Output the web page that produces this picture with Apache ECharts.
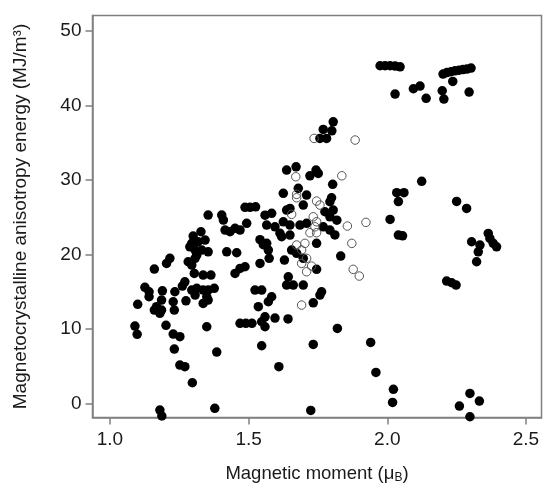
<!DOCTYPE html>
<html>
<head>
<meta charset="utf-8">
<script src="https://cdn.jsdelivr.net/npm/echarts@6/dist/echarts.min.js"></script>
<style>
  html, body { margin: 0; padding: 0; background: #fff; }
  #chart { width: 546px; height: 491px; }
</style>
</head>
<body>
<div id="chart"></div>
<script>
// Tick positions on each axis
var momentTicks = [1.0, 1.5, 2.0, 2.5];
var energyTicks = [0, 10, 20, 30, 40, 50];

// Compounds drawn as filled dots: magnetic moment (μB) and anisotropy energy (MJ/m³)
var filledMoment = [
  1.974, 1.992, 2.010, 2.028, 2.046,
  2.201, 2.215, 2.230, 2.244, 2.259, 2.273, 2.287, 2.302,
  2.236, 2.028, 2.094, 2.118, 2.140, 2.198, 2.204, 2.295,
  1.805, 1.769, 1.800, 1.757, 1.781,
  1.637, 1.671, 1.721, 1.743, 1.751, 1.803,
  1.625, 1.679, 1.709, 1.799, 1.793, 1.697, 1.649, 1.637,
  1.487, 1.505, 1.525,
  1.559, 1.583,
  1.775, 1.805, 1.793, 1.818,
  1.625, 1.649, 1.565, 1.595, 1.685, 1.709,
  1.769, 1.793,
  1.811, 1.541, 1.553, 1.619, 1.649, 1.613,
  1.745, 1.571, 1.655, 1.673, 1.697, 1.832,
  1.541, 1.574, 1.629, 1.745,
  1.643, 1.637, 1.661, 1.697,
  1.523, 1.547, 1.583, 1.571, 1.763, 1.757, 1.733, 1.535,
  1.559, 1.595, 1.642, 1.547, 1.559,
  1.469, 1.490, 1.512,
  1.090, 1.098, 1.202, 1.349, 1.228, 1.252, 1.232, 1.385, 1.547,
  1.252, 1.270, 1.609, 1.297,
  1.180, 1.187, 1.378, 1.724,
  2.010, 2.040, 2.055, 2.034, 2.060, 2.040, 2.124, 2.250, 2.286,
  2.304, 2.334, 2.328, 2.322, 2.364, 2.370, 2.382, 2.394,
  2.214, 2.232, 2.248,
  1.820, 1.733, 1.940, 1.959, 2.022, 2.019,
  2.298, 2.332, 2.260, 2.298,
  1.354, 1.403, 1.409,
  1.415, 1.433, 1.451, 1.469, 1.493,
  1.328, 1.300, 1.295, 1.318, 1.343,
  1.288, 1.307, 1.331, 1.354, 1.313,
  1.421, 1.457,
  1.216, 1.204, 1.160,
  1.282, 1.295, 1.307, 1.304, 1.336, 1.364,
  1.451, 1.469, 1.487,
  1.270, 1.261,
  1.126, 1.141, 1.141,
  1.189, 1.234,
  1.295, 1.313, 1.336, 1.354, 1.376,
  1.307, 1.349, 1.274,
  1.186, 1.168, 1.186, 1.228, 1.100,
  1.160, 1.180, 1.232, 1.336, 1.354,
  1.565
];
var filledEnergy = [
  45.35, 45.35, 45.35, 45.30, 45.20,
  44.23, 44.43, 44.56, 44.67, 44.76, 44.83, 44.90, 45.04,
  43.25, 41.55, 42.26, 42.62, 40.97, 41.99, 40.87, 41.81,
  37.82, 36.80, 36.61, 35.59, 35.59,
  31.34, 31.78, 30.57, 31.34, 30.89, 29.42,
  28.21, 28.88, 27.98, 27.62, 27.08, 26.64, 26.19, 25.96,
  26.33, 26.33, 26.40,
  25.28, 25.52,
  25.74, 25.96, 25.06, 24.61,
  24.39, 23.95, 23.95, 23.72, 23.95, 24.18,
  23.72, 23.28,
  22.62, 21.99, 21.32, 22.38, 22.61, 22.85,
  21.49, 20.59, 20.59, 20.15, 19.48, 19.79,
  18.80, 19.48, 19.25, 18.00,
  17.00, 15.89, 15.89, 15.89,
  15.22, 15.22, 14.32, 13.65, 14.99, 14.55, 13.51, 12.98,
  11.63, 11.45, 11.34, 10.96, 10.29,
  10.75, 10.75, 10.75,
  10.38, 9.27, 10.48, 10.29, 9.31, 8.95, 7.29, 6.89, 7.74,
  5.14, 4.92, 4.92, 2.77,
  -0.90, -1.70, -0.67, -0.95,
  24.71, 22.60, 22.50, 28.30, 28.30, 27.10, 29.82, 27.13, 26.19,
  21.71, 21.26, 20.36, 19.02, 22.83, 22.16, 21.49, 21.03,
  16.43, 16.20, 15.89,
  10.07, 7.92, 8.19, 4.16, 1.88, 0.13,
  1.34, 0.31, -0.36, -1.80,
  25.29, 25.29, 24.62,
  23.28, 23.05, 23.51, 23.28, 24.18,
  23.05, 22.47, 21.49, 21.71, 21.93,
  21.03, 20.59, 20.59, 20.36, 19.92,
  20.36, 20.23,
  19.48, 18.80, 18.04,
  19.02, 18.58, 19.48, 17.46, 17.23, 17.23,
  17.46, 18.13, 18.35,
  16.33, 15.76,
  15.58, 14.99, 14.32,
  15.12, 14.99,
  15.22, 15.45, 15.22, 15.22, 15.45,
  14.55, 14.32, 13.78,
  13.87, 12.98, 12.53, 13.65, 13.30,
  12.53, 12.09, 12.53, 13.43, 13.87,
  21.49
];

// Compounds drawn as open circles
var openMoment = [
  1.736, 1.884, 1.670, 1.836, 1.673, 1.673, 1.745, 1.757, 1.655,
  1.733, 1.745, 1.739, 1.856, 1.923, 1.721, 1.745, 1.673, 1.703,
  1.872, 1.691, 1.709, 1.691, 1.727, 1.709, 1.877, 1.899, 1.691
];
var openEnergy = [
  35.59, 35.37, 30.44, 30.57, 28.07, 27.62, 27.17, 26.64, 25.39,
  25.06, 24.39, 23.72, 23.82, 24.31, 22.92, 22.92, 21.27, 21.49,
  21.49, 20.59, 19.48, 18.80, 18.44, 17.68, 18.00, 17.10, 13.20
];

function pairs(xs, ys) {
  return xs.map(function (x, i) { return [x, ys[i]]; });
}

var frameColor = '#808080';
var textColor = '#1a1a1a';
var fontFamily = "'Liberation Sans', Arial, sans-serif";

var chart = echarts.init(document.getElementById('chart'), null, { renderer: 'canvas' });
chart.setOption({
  animation: false,
  backgroundColor: '#ffffff',
  grid: {
    left: 92.5, right: 4.5, top: 15.5, bottom: 73.5,
    show: true, borderColor: frameColor, borderWidth: 1.5, backgroundColor: 'transparent'
  },
  xAxis: {
    type: 'value',
    min: 0.937, max: 2.556,
    splitLine: { show: false },
    axisLine: { show: true, onZero: false, lineStyle: { color: frameColor, width: 1.5 } },
    axisTick: { show: true, length: 7, customValues: momentTicks, lineStyle: { color: frameColor, width: 1.5 } },
    axisLabel: {
      customValues: momentTicks, margin: 13, fontSize: 19, color: textColor, fontFamily: fontFamily,
      formatter: function (v) { return v.toFixed(1); }
    },
    name: '{t|Magnetic moment (μ}{s|B}{t|)}',
    nameLocation: 'middle', nameGap: 44,
    nameTextStyle: {
      fontFamily: fontFamily, color: textColor,
      rich: {
        t: { fontSize: 18.5, lineHeight: 22, verticalAlign: 'bottom', color: textColor, fontFamily: fontFamily },
        s: { fontSize: 12, lineHeight: 4, verticalAlign: 'bottom', color: textColor, fontFamily: fontFamily }
      }
    }
  },
  yAxis: {
    type: 'value',
    min: -1.9, max: 52.1,
    splitLine: { show: false },
    axisLine: { show: true, onZero: false, lineStyle: { color: frameColor, width: 1.5 } },
    axisTick: { show: true, length: 7, customValues: energyTicks, lineStyle: { color: frameColor, width: 1.5 } },
    axisLabel: {
      customValues: energyTicks, margin: 11, fontSize: 19, color: textColor, fontFamily: fontFamily,
      formatter: function (v) { return String(Math.round(v)); }
    },
    name: 'Magnetocrystalline anisotropy energy (MJ/m³)',
    nameLocation: 'middle', nameGap: 62, nameRotate: 90,
    nameTextStyle: { fontSize: 19, color: textColor, fontFamily: fontFamily }
  },
  series: [
    {
      type: 'scatter',
      data: pairs(filledMoment, filledEnergy),
      symbol: 'circle', symbolSize: 9.5,
      itemStyle: { color: '#000000', opacity: 1 },
      emphasis: { disabled: true },
      clip: false
    },
    {
      type: 'scatter',
      data: pairs(openMoment, openEnergy),
      symbol: 'circle', symbolSize: 8.5,
      itemStyle: { color: 'rgba(255,255,255,0)', borderColor: '#555555', borderWidth: 1, opacity: 1 },
      emphasis: { disabled: true },
      clip: false
    }
  ]
});
</script>
</body>
</html>
